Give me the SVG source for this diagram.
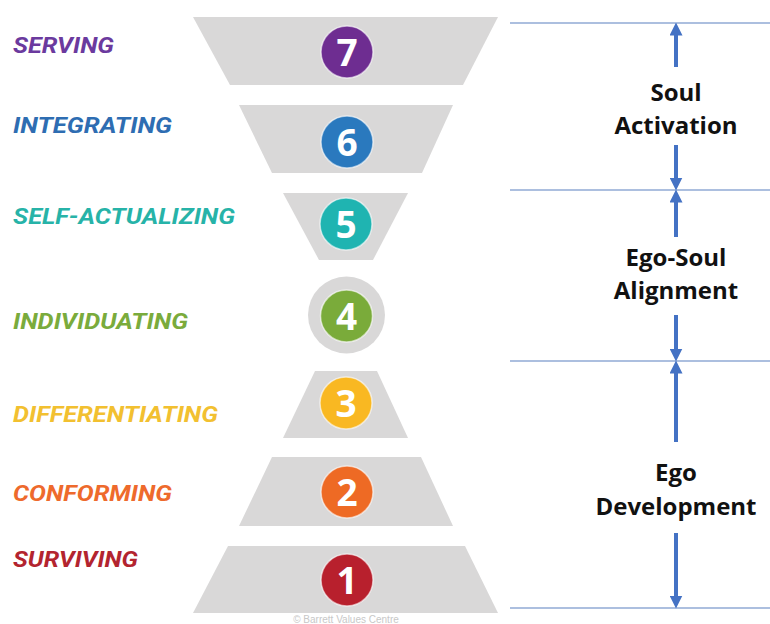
<svg xmlns="http://www.w3.org/2000/svg" width="770" height="624" viewBox="0 0 770 624">
  <style>
    .band { fill: #d9d8d8; }
    .num { font-family: "Open Sans", "Liberation Sans", sans-serif; font-weight: 700; font-size: 37px; fill: #ffffff; text-anchor: middle; }
    .lvl { font-family: Roboto, "Liberation Sans", sans-serif; font-weight: 700; font-style: italic; font-size: 22px; }
    .phase { font-family: "Open Sans", "Liberation Sans", sans-serif; font-weight: 700; font-size: 24px; fill: #111111; text-anchor: middle; }
    .rule { stroke: #5b80c0; stroke-width: 1.2; }
    .arrow { stroke: #4472c4; stroke-width: 4; fill: none; marker-end: url(#head); }
    .ring { stroke: #ffffff; stroke-opacity: 0.6; stroke-width: 1.5; }
  </style>
  <defs>
    <marker id="head" viewBox="0 0 12 12" refX="6" refY="6" markerWidth="13" markerHeight="13" orient="auto" markerUnits="userSpaceOnUse">
      <path d="M0,0 L12,6 L0,12 z" fill="#4472c4"/>
    </marker>
  </defs>
  <rect width="770" height="624" fill="#ffffff"/>

  <!-- level labels -->
  <g id="labels">
    <text class="lvl" x="13" y="53" fill="#6b3a9e" textLength="101" lengthAdjust="spacingAndGlyphs">SERVING</text>
    <text class="lvl" x="13" y="133" fill="#2e6db2" textLength="159" lengthAdjust="spacingAndGlyphs">INTEGRATING</text>
    <text class="lvl" x="13" y="224" fill="#27b3a8" textLength="222" lengthAdjust="spacingAndGlyphs">SELF-ACTUALIZING</text>
    <text class="lvl" x="13" y="329" fill="#7aab3c" textLength="175" lengthAdjust="spacingAndGlyphs">INDIVIDUATING</text>
    <text class="lvl" x="13" y="422" fill="#f2c030" textLength="205" lengthAdjust="spacingAndGlyphs">DIFFERENTIATING</text>
    <text class="lvl" x="13" y="501" fill="#ee6a2c" textLength="159" lengthAdjust="spacingAndGlyphs">CONFORMING</text>
    <text class="lvl" x="13" y="567" fill="#b3242f" textLength="125" lengthAdjust="spacingAndGlyphs">SURVIVING</text>
  </g>

  <!-- seven levels of consciousness -->
  <g id="level7">
    <polygon class="band" points="193,17 498,17 463,85 230,85"/>
    <circle class="ring" cx="347" cy="52" r="26" fill="#6e2d91"/>
    <text class="num" x="347" y="65.5">7</text>
  </g>
  <g id="level6">
    <polygon class="band" points="239,105 453,105 422,173 272,173"/>
    <circle class="ring" cx="347" cy="142" r="26" fill="#2a79be"/>
    <text class="num" x="347" y="155.5">6</text>
  </g>
  <g id="level5">
    <polygon class="band" points="283,193 408,193 373,260 319,260"/>
    <circle class="ring" cx="346" cy="224" r="26" fill="#1fb4b1"/>
    <text class="num" x="346" y="237.5">5</text>
  </g>
  <g id="level4">
    <circle cx="346.5" cy="315" r="38.5" fill="#d9d8d8"/>
    <circle class="ring" cx="346.5" cy="316" r="26" fill="#7aab3a"/>
    <text class="num" x="346.5" y="329.5">4</text>
  </g>
  <g id="level3">
    <polygon class="band" points="315,371 377,371 408,438 283,438"/>
    <circle class="ring" cx="346" cy="403" r="26" fill="#f9b822"/>
    <text class="num" x="346" y="416.5">3</text>
  </g>
  <g id="level2">
    <polygon class="band" points="272,457 421,457 453,526 239,526"/>
    <circle class="ring" cx="347" cy="492" r="26" fill="#ee6a24"/>
    <text class="num" x="347" y="505.5">2</text>
  </g>
  <g id="level1">
    <polygon class="band" points="228,546 465,546 498,613 193,613"/>
    <circle class="ring" cx="347" cy="580" r="26" fill="#b8202d"/>
    <text class="num" x="347" y="593.5">1</text>
  </g>

  <text x="346" y="623" font-family="'Liberation Sans', sans-serif" font-size="10" fill="#c8c8c8" text-anchor="middle">© Barrett Values Centre</text>

  <!-- phase brackets -->
  <g id="connectors">
    <line class="rule" x1="510" y1="23" x2="770" y2="23"/>
    <line class="rule" x1="510" y1="190" x2="770" y2="190"/>
    <line class="rule" x1="510" y1="361" x2="770" y2="361"/>
    <line class="rule" x1="510" y1="608" x2="770" y2="608"/>
    <line class="arrow" x1="676" y1="67" x2="676" y2="29"/>
    <line class="arrow" x1="676" y1="145" x2="676" y2="184"/>
    <line class="arrow" x1="676" y1="237" x2="676" y2="196"/>
    <line class="arrow" x1="676" y1="315" x2="676" y2="355"/>
    <line class="arrow" x1="676" y1="442" x2="676" y2="367"/>
    <line class="arrow" x1="676" y1="533" x2="676" y2="602"/>
  </g>

  <g id="phase-soul">
    <text class="phase" x="676" y="101">Soul</text>
    <text class="phase" x="676" y="134">Activation</text>
  </g>
  <g id="phase-ego-soul">
    <text class="phase" x="676" y="266">Ego-Soul</text>
    <text class="phase" x="676" y="299">Alignment</text>
  </g>
  <g id="phase-ego">
    <text class="phase" x="676" y="481">Ego</text>
    <text class="phase" x="676" y="515">Development</text>
  </g>
</svg>
